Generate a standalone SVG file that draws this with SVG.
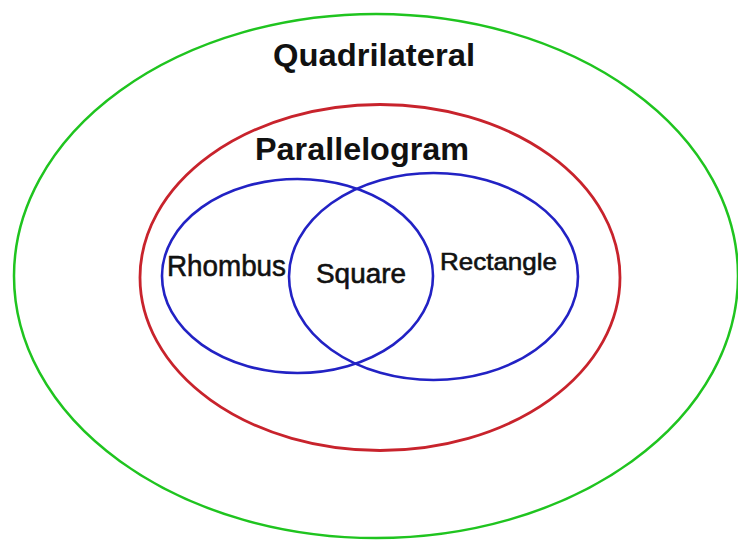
<svg xmlns="http://www.w3.org/2000/svg" width="738" height="540" viewBox="0 0 738 540">
<style>
.set{fill:none}
.green{stroke:#1fc41f;stroke-width:2.5}
.red{stroke:#c8232c;stroke-width:2.8}
.blue{stroke:#2222c4;stroke-width:2.6}
.title{font-family:"Liberation Sans",Arial,sans-serif;font-weight:bold;fill:#111}
.label{font-family:"Liberation Sans",Arial,sans-serif;fill:#111;stroke:#111;stroke-width:0.6}
</style>
<rect width="738" height="540" fill="#fff"/>
<g id="quadrilateral">
<ellipse class="set green" cx="376" cy="276" rx="362" ry="262"/>
<text class="title" x="374" y="66" font-size="32" text-anchor="middle" textLength="202" lengthAdjust="spacingAndGlyphs">Quadrilateral</text>
</g>
<g id="parallelogram">
<ellipse class="set red" cx="380" cy="277.5" rx="240" ry="173"/>
<text class="title" x="362" y="160" font-size="32" text-anchor="middle" textLength="214" lengthAdjust="spacingAndGlyphs">Parallelogram</text>
</g>
<g id="rhombus">
<ellipse class="set blue" cx="297.5" cy="276" rx="135.5" ry="97"/>
<text class="label" x="167" y="276" font-size="30" textLength="119" lengthAdjust="spacingAndGlyphs">Rhombus</text>
</g>
<g id="rectangle">
<ellipse class="set blue" cx="433.5" cy="276.5" rx="144.5" ry="103.5"/>
<text class="label" x="440" y="270" font-size="24" textLength="117" lengthAdjust="spacingAndGlyphs">Rectangle</text>
</g>
<g id="square">
<text class="label" x="316" y="283" font-size="27" textLength="90" lengthAdjust="spacingAndGlyphs">Square</text>
</g>
<g id="connectors"></g>
</svg>
